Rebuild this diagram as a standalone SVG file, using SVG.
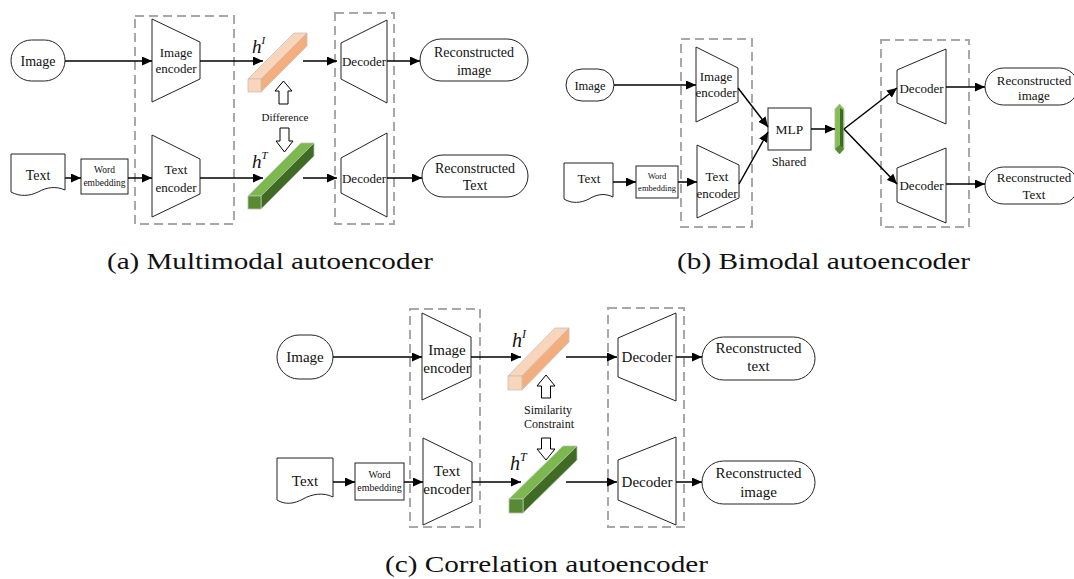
<svg xmlns="http://www.w3.org/2000/svg" width="1074" height="579" viewBox="0 0 1074 579">
<defs>
<marker id="ah" markerUnits="userSpaceOnUse" markerWidth="10" markerHeight="9" refX="10" refY="4.5" orient="auto">
<path d="M0,0 L10,4.5 L0,9 z" fill="#000"/>
</marker>
<style>
text{font-family:"Liberation Serif","Times New Roman",serif;fill:#111;text-anchor:middle}
.sh{fill:#fff;stroke:#222;stroke-width:1}
.dash{fill:none;stroke:#a8a8a8;stroke-width:2;stroke-dasharray:9 5}
.c{fill:none;stroke:#000;stroke-width:1.5;marker-end:url(#ah)}
.ol{fill:#f9d5bb;stroke:#c9c0b8;stroke-width:0.8}
.od{fill:#f4ad7c;stroke:#c9c0b8;stroke-width:0.8}
.gl{fill:#7db84f;stroke:#b8c4b0;stroke-width:0.8}
.gd{fill:#3f6b24;stroke:#b8c4b0;stroke-width:0.8}
.gc{fill:#568a33;stroke:#b8c4b0;stroke-width:0.8}
.ha{fill:#fff;stroke:#000;stroke-width:1}
.hi{font-style:italic}
.cap{font-size:24px}
</style>
</defs>

<!-- ================= (a) ================= -->
<g id="a_boxes">
<rect class="dash" x="135" y="16" width="99" height="208"/>
<rect class="dash" x="335" y="13" width="59" height="211"/>
</g>
<g id="a_image">
<rect class="sh" x="11" y="40" width="54" height="41" rx="20.5"/>
<text x="38" y="65.5" font-size="14">Image</text>
</g>
<g id="a_img_enc">
<polygon class="sh" points="152,19 200,42 200,79 152,102"/>
<text x="176" y="57" font-size="13">Image</text>
<text x="176" y="73" font-size="13">encoder</text>
</g>
<g id="a_hI">
<polygon class="ol" points="248,79 261,79 307,33 294,33"/>
<polygon class="od" points="261,79 261,92 307,46 307,33"/>
<rect class="ol" x="248" y="79" width="13" height="13"/>
<text x="252" y="53" font-size="19" class="hi" style="text-anchor:start">h<tspan dy="-9" font-size="11">I</tspan></text>
</g>
<g id="a_dec1">
<polygon class="sh" points="341,43 387,20 387,103 341,79"/>
<text x="364" y="65.5" font-size="13">Decoder</text>
</g>
<g id="a_rec_img">
<rect class="sh" x="420" y="39" width="108" height="42" rx="21"/>
<text x="474" y="57" font-size="14">Reconstructed</text>
<text x="474" y="75" font-size="14">image</text>
</g>
<g id="a_diff">
<polygon class="ha" points="283.5,81 292,91 288,91 288,104 279,104 279,91 275,91"/>
<text x="285" y="121" font-size="11">Difference</text>
<polygon class="ha" points="280,128 289,128 289,141 293,141 284.5,152 276,141 280,141"/>
</g>
<g id="a_text">
<path class="sh" d="M11,154 H65 V190 C56,186 47,187 38,192 C30,196 20,197 11,192 Z"/>
<text x="38" y="180" font-size="14">Text</text>
</g>
<g id="a_we">
<rect class="sh" x="81" y="159" width="47" height="35"/>
<text x="104.5" y="173" font-size="9.5">Word</text>
<text x="104.5" y="186" font-size="9.5">embedding</text>
</g>
<g id="a_txt_enc">
<polygon class="sh" points="152,135 200,159 200,194 152,217"/>
<text x="176" y="173.5" font-size="13">Text</text>
<text x="176" y="191.5" font-size="13">encoder</text>
</g>
<g id="a_hT">
<polygon class="gl" points="248,196 261,196 314,143 301,143"/>
<polygon class="gd" points="261,196 261,209 314,156 314,143"/>
<rect class="gc" x="248" y="196" width="13" height="13"/>
<text x="252" y="168" font-size="19" class="hi" style="text-anchor:start">h<tspan dy="-9" font-size="11">T</tspan></text>
</g>
<g id="a_dec2">
<polygon class="sh" points="341,158 387,133 387,217 341,193"/>
<text x="364" y="182.5" font-size="13">Decoder</text>
</g>
<g id="a_rec_txt">
<rect class="sh" x="422" y="155" width="106" height="42" rx="21"/>
<text x="475" y="173" font-size="14">Reconstructed</text>
<text x="475" y="190" font-size="14">Text</text>
</g>
<g id="a_conn">
<line class="c" x1="65" y1="61" x2="152" y2="61"/>
<line class="c" x1="200" y1="61" x2="263" y2="61"/>
<line class="c" x1="303" y1="61" x2="337" y2="61"/>
<line class="c" x1="387" y1="61" x2="420" y2="61"/>
<line class="c" x1="65" y1="178" x2="81" y2="178"/>
<line class="c" x1="128" y1="178" x2="152" y2="178"/>
<line class="c" x1="200" y1="178" x2="263" y2="178"/>
<line class="c" x1="303" y1="178" x2="337" y2="178"/>
<line class="c" x1="387" y1="178" x2="422" y2="178"/>
</g>
<text class="cap" x="270" y="269" textLength="326" lengthAdjust="spacingAndGlyphs">(a) Multimodal autoencoder</text>

<!-- ================= (b) ================= -->
<g id="b_boxes">
<rect class="dash" x="681" y="39" width="71" height="188"/>
<rect class="dash" x="881" y="40" width="88" height="187"/>
</g>
<g id="b_image">
<rect class="sh" x="566" y="69" width="48" height="32" rx="16"/>
<text x="590" y="89.5" font-size="12.5">Image</text>
</g>
<g id="b_img_enc">
<polygon class="sh" points="696,47 738,68 738,102 696,122"/>
<text x="716" y="80.5" font-size="13">Image</text>
<text x="716" y="96.5" font-size="13">encoder</text>
</g>
<g id="b_text">
<path class="sh" d="M564,163 H613 V197 C605,193 597,194 589,199 C581,203 572,204 564,199 Z"/>
<text x="589" y="182.5" font-size="13">Text</text>
</g>
<g id="b_we">
<rect class="sh" x="636" y="166" width="42" height="32"/>
<text x="657" y="179" font-size="8.5">Word</text>
<text x="657" y="191" font-size="8.5">embedding</text>
</g>
<g id="b_txt_enc">
<polygon class="sh" points="697,145 739,165 739,198 697,218"/>
<text x="717" y="180.5" font-size="13">Text</text>
<text x="717" y="197.5" font-size="13">encoder</text>
</g>
<g id="b_mlp">
<rect class="sh" x="768" y="108" width="43" height="42"/>
<text x="789.5" y="134" font-size="13.5">MLP</text>
<text x="789" y="165.5" font-size="12.5">Shared</text>
</g>
<g id="b_bar">
<polygon fill="#86bf5a" stroke="#a9b99c" stroke-width="0.8" points="835,109 839.5,104 844,109 844,149 839.5,154 835,149"/>
<polygon fill="#3f6b24" points="840,108 843,110 843,148 840,146"/>
<polygon fill="#568a33" points="835,149 839.5,145 844,149 839.5,154"/>
</g>
<g id="b_dec1">
<polygon class="sh" points="897,70 946,49 946,124 897,103"/>
<text x="921.5" y="93" font-size="13">Decoder</text>
</g>
<g id="b_dec2">
<polygon class="sh" points="897,168 946,148 946,223 897,202"/>
<text x="921.5" y="190" font-size="13">Decoder</text>
</g>
<g id="b_rec_img">
<rect class="sh" x="985" y="68" width="93" height="37" rx="18.5"/>
<text x="1034" y="84.5" font-size="13">Reconstructed</text>
<text x="1034" y="100" font-size="13">image</text>
</g>
<g id="b_rec_txt">
<rect class="sh" x="985" y="167" width="93" height="37" rx="18.5"/>
<text x="1034" y="182" font-size="13">Reconstructed</text>
<text x="1034" y="198.5" font-size="13">Text</text>
</g>
<g id="b_conn">
<line class="c" x1="614" y1="85" x2="696" y2="85"/>
<line class="c" x1="613" y1="182" x2="636" y2="182"/>
<line class="c" x1="678" y1="182" x2="697" y2="182"/>
<line class="c" x1="738" y1="88" x2="768" y2="127"/>
<line class="c" x1="739" y1="184" x2="768" y2="132"/>
<line class="c" x1="811" y1="129" x2="835" y2="129"/>
<line class="c" x1="844" y1="129" x2="897" y2="88"/>
<line class="c" x1="844" y1="129" x2="897" y2="184"/>
<line class="c" x1="946" y1="87" x2="985" y2="87"/>
<line class="c" x1="946" y1="184" x2="985" y2="184"/>
</g>
<text class="cap" x="823.5" y="269" textLength="293" lengthAdjust="spacingAndGlyphs">(b) Bimodal autoencoder</text>

<!-- ================= (c) ================= -->
<g id="c_boxes">
<rect class="dash" x="410" y="309" width="70" height="218"/>
<rect class="dash" x="608" y="308" width="76" height="219"/>
</g>
<g id="c_image">
<rect class="sh" x="277" y="335" width="56" height="44" rx="22"/>
<text x="305" y="362" font-size="15">Image</text>
</g>
<g id="c_img_enc">
<polygon class="sh" points="422,313 471,337 471,377 422,400"/>
<text x="447" y="355" font-size="15">Image</text>
<text x="447" y="373" font-size="15">encoder</text>
</g>
<g id="c_hI">
<polygon class="ol" points="508,376 522,376 569,328 555,328"/>
<polygon class="od" points="522,376 522,390 569,342 569,328"/>
<rect class="ol" x="508" y="376" width="14" height="14"/>
<text x="512" y="347" font-size="20" class="hi" style="text-anchor:start">h<tspan dy="-9" font-size="12">I</tspan></text>
</g>
<g id="c_dec1">
<polygon class="sh" points="618,338 676,313 676,401 618,377"/>
<text x="647" y="362" font-size="15">Decoder</text>
</g>
<g id="c_rec_txt">
<rect class="sh" x="702" y="337" width="113" height="43" rx="21.5"/>
<text x="758.5" y="353" font-size="15">Reconstructed</text>
<text x="758.5" y="371" font-size="15">text</text>
</g>
<g id="c_sim">
<polygon class="ha" points="546,375 555,386 550.5,386 550.5,398 541.5,398 541.5,386 537,386"/>
<text x="548" y="414" font-size="12">Similarity</text>
<text x="549" y="428" font-size="12">Constraint</text>
<polygon class="ha" points="541.5,438 550.5,438 550.5,449 555,449 546,460 537,449 541.5,449"/>
</g>
<g id="c_text">
<path class="sh" d="M277,458 H333 V497 C323,492 312,494 303,499 C294,504 285,505 277,500 Z"/>
<text x="305" y="486" font-size="15">Text</text>
</g>
<g id="c_we">
<rect class="sh" x="355" y="463" width="49" height="37"/>
<text x="379.5" y="478" font-size="10">Word</text>
<text x="379.5" y="491" font-size="10">embedding</text>
</g>
<g id="c_txt_enc">
<polygon class="sh" points="423,438 472,462 472,502 423,525"/>
<text x="447" y="476" font-size="15">Text</text>
<text x="447" y="494" font-size="15">encoder</text>
</g>
<g id="c_hT">
<polygon class="gl" points="509,499 523,499 577,446 563,446"/>
<polygon class="gd" points="523,499 523,513 577,460 577,446"/>
<rect class="gc" x="509" y="499" width="14" height="14"/>
<text x="510" y="470" font-size="20" class="hi" style="text-anchor:start">h<tspan dy="-9" font-size="12">T</tspan></text>
</g>
<g id="c_dec2">
<polygon class="sh" points="618,460 676,437 676,525 618,500"/>
<text x="647" y="487" font-size="15">Decoder</text>
</g>
<g id="c_rec_img">
<rect class="sh" x="702" y="461" width="113" height="43" rx="21.5"/>
<text x="758.5" y="478" font-size="15">Reconstructed</text>
<text x="758.5" y="497" font-size="15">image</text>
</g>
<g id="c_conn">
<line class="c" x1="333" y1="357" x2="422" y2="357"/>
<line class="c" x1="471" y1="357" x2="521" y2="357"/>
<line class="c" x1="566" y1="357" x2="617" y2="357"/>
<line class="c" x1="676" y1="357" x2="702" y2="357"/>
<line class="c" x1="333" y1="482" x2="355" y2="482"/>
<line class="c" x1="404" y1="482" x2="423" y2="482"/>
<line class="c" x1="472" y1="482" x2="521" y2="482"/>
<line class="c" x1="566" y1="482" x2="617" y2="482"/>
<line class="c" x1="676" y1="482" x2="702" y2="482"/>
</g>
<text class="cap" x="546.5" y="572" textLength="323" lengthAdjust="spacingAndGlyphs">(c) Correlation autoencoder</text>
</svg>
